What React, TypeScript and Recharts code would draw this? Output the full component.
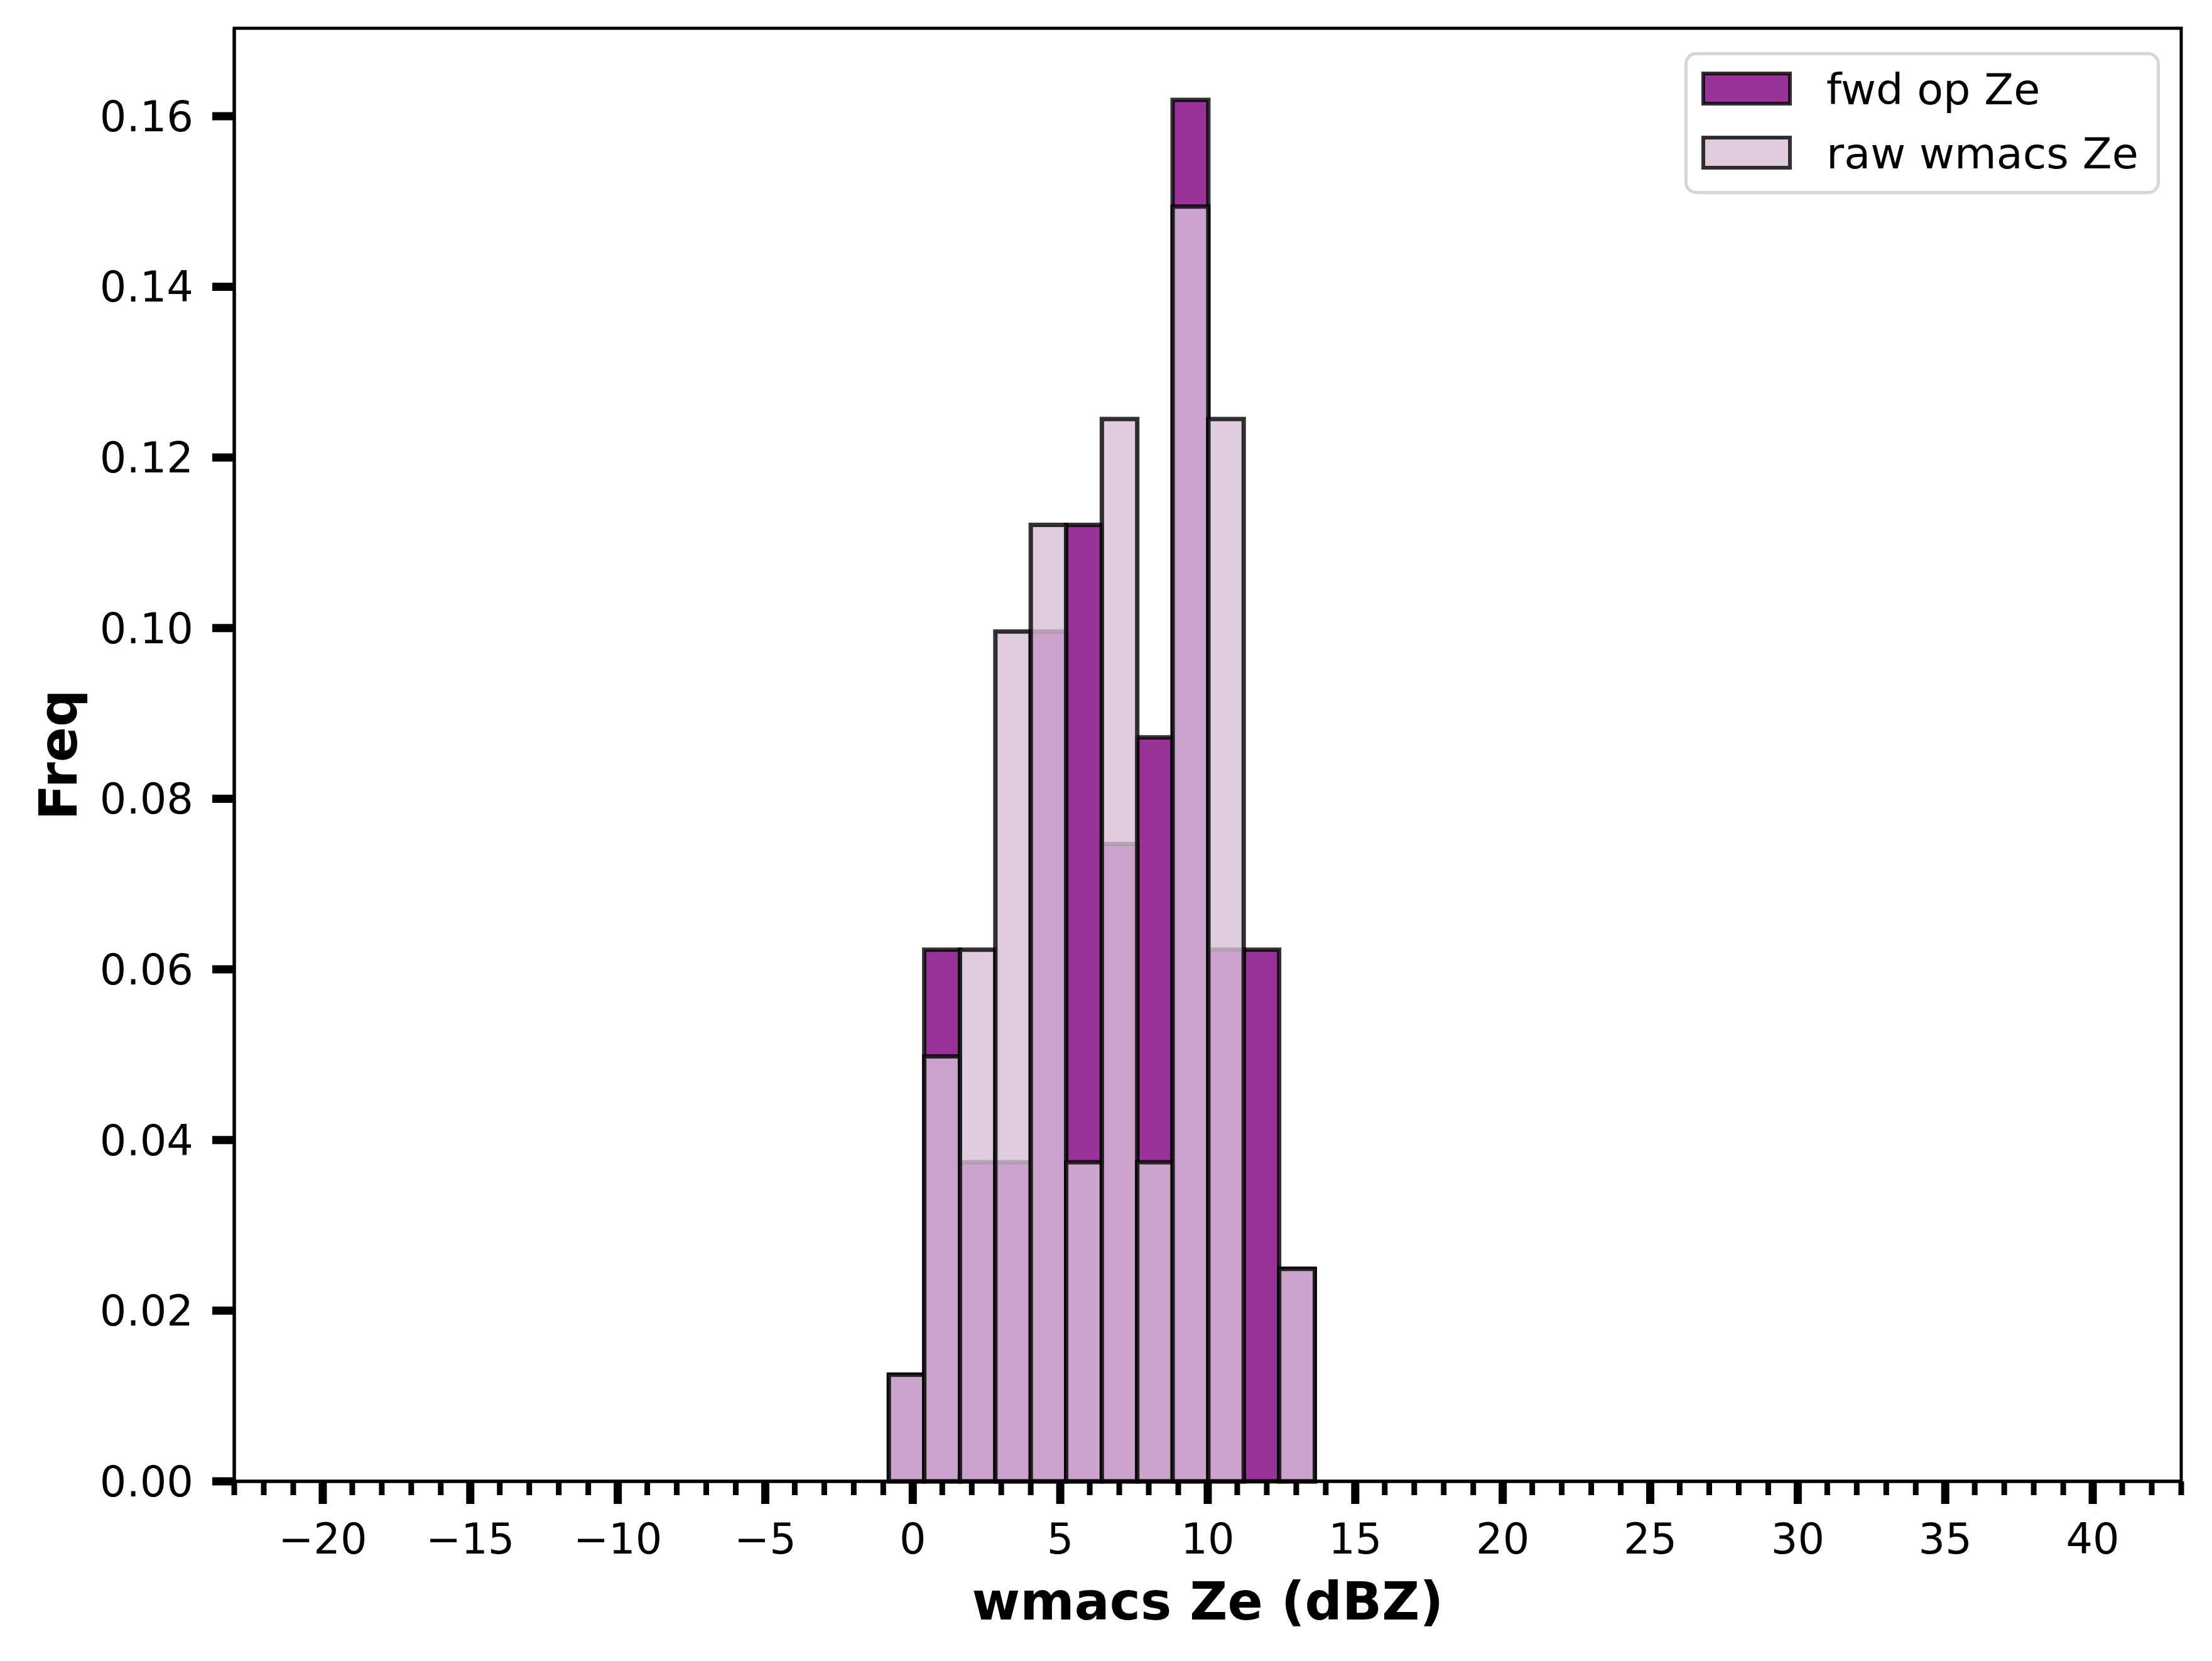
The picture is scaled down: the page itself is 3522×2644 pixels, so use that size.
import React from 'react';
import { ComposedChart, XAxis, YAxis, ReferenceArea, Legend, Label } from 'recharts';

// histogram bin edges (dBZ) and densities
const binEdges = [-0.81, 0.39, 1.6, 2.8, 4.0, 5.2, 6.41, 7.61, 8.81, 10.02, 11.22, 12.42, 13.63];
const fwdFreq = [0.0125, 0.0623, 0.0374, 0.0374, 0.0996, 0.1121, 0.0747, 0.0872, 0.1619, 0.0623, 0.0623, 0.0249];
const rawFreq = [0.0125, 0.0498, 0.0623, 0.0996, 0.1121, 0.0374, 0.1245, 0.0374, 0.1494, 0.1245, 0, 0.0249];

const xMajorTicks = [-20, -15, -10, -5, 0, 5, 10, 15, 20, 25, 30, 35, 40];
const xAllTicks = Array.from({ length: 67 }, (_, i) => i - 23);
const yTicks = [0, 0.02, 0.04, 0.06, 0.08, 0.1, 0.12, 0.14, 0.16];

const X_DOMAIN: [number, number] = [-23, 43];
const Y_DOMAIN: [number, number] = [0, 0.1703];

const FONT = '"DejaVu Sans", sans-serif';
const TICK_FONT = 67;
const LEGEND_FONT = 68.5;
const LABEL_FONT = 83;

const series = [
  { name: 'fwd op Ze', values: fwdFreq, fill: '#800080', swatch: '#993399' },
  { name: 'raw wmacs Ze', values: rawFreq, fill: '#d8bfd8', swatch: '#dfcbdf' },
];

const fmtX = (v: number) => (v < 0 ? `\u2212${Math.abs(v)}` : `${v}`);

const XTick = (props: any) => {
  const { x, y, payload } = props;
  const v = payload.value;
  const major = xMajorTicks.includes(v);
  return (
    <g>
      <line x1={x} x2={x} y1={y} y2={y + (major ? 36 : 22)} stroke="#000" strokeWidth={major ? 13 : 9} />
      {major && (
        <text x={x} y={y + 115} textAnchor="middle" fontSize={TICK_FONT} fontFamily={FONT} fill="#000">
          {fmtX(v)}
        </text>
      )}
    </g>
  );
};

const XLabel = (props: any) => {
  const vb = props.viewBox || { x: 373, y: 2358, width: 3100, height: 286 };
  return (
    <text x={vb.x + vb.width / 2} y={vb.y + 220} textAnchor="middle" fontSize={LABEL_FONT} fontWeight="bold" fontFamily={FONT} fill="#000">
      wmacs Ze (dBZ)
    </text>
  );
};

const YLabel = (props: any) => {
  const vb = props.viewBox || { x: 0, y: 45, width: 373, height: 2313 };
  const cx = vb.x + 122;
  const cy = vb.y + vb.height / 2;
  return (
    <text x={cx} y={cy} transform={`rotate(-90, ${cx}, ${cy})`} textAnchor="middle" fontSize={LABEL_FONT} fontWeight="bold" fontFamily={FONT} fill="#000">
      Freq
    </text>
  );
};

const renderLegend = () => (
  <svg width={757} height={226} style={{ display: 'block' }}>
    <rect x={2.5} y={2.5} width={752} height={221} rx={16} fill="#fff" fillOpacity={0.8} stroke="#d6d6d6" strokeWidth={5} />
    {series.map((s, i) => (
      <g key={s.name} transform={`translate(0, ${i * 102})`}>
        <rect x={30} y={34} width={138} height={48} fill={s.swatch} stroke="#000" strokeOpacity={0.8} strokeWidth={6} />
        <text x={226} y={83} fontSize={LEGEND_FONT} fontFamily={FONT} fill="#000">
          {s.name}
        </text>
      </g>
    ))}
  </svg>
);

export default function App() {
  return (
    <div style={{ position: 'absolute', left: 0, top: 0, width: 3522, height: 2644, background: '#fff' }}>
      <ComposedChart width={3522} height={2644} margin={{ top: 45, right: 49, bottom: 0, left: 0 }}>
        <XAxis
          type="number"
          dataKey="x"
          domain={X_DOMAIN}
          allowDataOverflow
          ticks={xAllTicks}
          interval={0}
          height={286}
          tickSize={0}
          tickMargin={0}
          tickLine={false}
          tick={<XTick />}
          axisLine={{ stroke: '#000', strokeWidth: 5 }}
        >
          <Label content={<XLabel />} />
        </XAxis>
        <YAxis
          type="number"
          domain={Y_DOMAIN}
          allowDataOverflow
          ticks={yTicks}
          interval={0}
          width={373}
          tickSize={35}
          tickMargin={30}
          tickFormatter={(v: number) => v.toFixed(2)}
          tick={{ fill: '#000', fontSize: TICK_FONT, fontFamily: FONT }}
          tickLine={{ stroke: '#000', strokeWidth: 13 }}
          axisLine={{ stroke: '#000', strokeWidth: 5 }}
        >
          <Label content={<YLabel />} />
        </YAxis>
        {series.map((s) =>
          s.values.map((v, i) =>
            v > 0 ? (
              <ReferenceArea
                key={`${s.name}-${i}`}
                x1={binEdges[i]}
                x2={binEdges[i + 1]}
                y1={0}
                y2={v}
                fill={s.fill}
                fillOpacity={0.8}
                stroke="#000"
                strokeOpacity={0.8}
                strokeWidth={7}
                ifOverflow="visible"
              />
            ) : null
          )
        )}
        {/* top/right spines */}
        <ReferenceArea
          x1={X_DOMAIN[0]}
          x2={X_DOMAIN[1]}
          y1={Y_DOMAIN[0]}
          y2={Y_DOMAIN[1]}
          fill="none"
          stroke="#000"
          strokeWidth={5}
          ifOverflow="visible"
        />
        <Legend
          layout="vertical"
          align="center"
          verticalAlign="middle"
          wrapperStyle={{ left: 2682, top: 83, width: 757, height: 226 }}
          content={renderLegend}
        />
      </ComposedChart>
    </div>
  );
}
